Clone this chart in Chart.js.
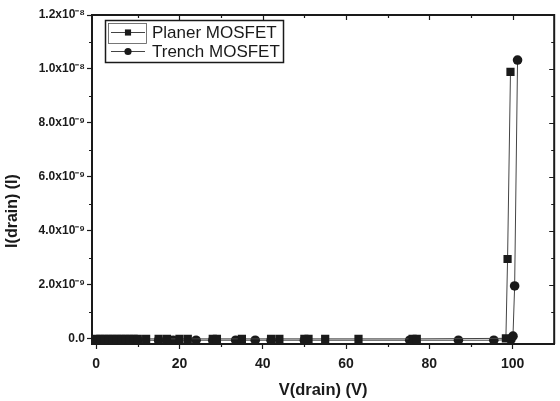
<!DOCTYPE html>
<html lang="en">
<head>
    <meta charset="UTF-8">
    <title>I(drain) vs V(drain)</title>
    <script src="https://cdn.jsdelivr.net/npm/chart.js"></script>
    <style>
        html, body {
            margin: 0;
            padding: 0;
            background: #ffffff;
        }
        #wrap {
            width: 560px;
            height: 401px;
        }
    </style>
</head>
<body>

<div id="wrap">
    <canvas id="ivChart" width="560" height="401"></canvas>
</div>

<script>
    // data
    const seriesNames = ['Planer MOSFET', 'Trench MOSFET'];

    const planerV = [0, 1, 2, 3, 4, 5, 6, 7, 8, 9, 10, 12, 15, 17, 20, 22, 28, 29, 35, 42, 44, 50, 51, 55, 63, 76, 77, 98.4, 98.8, 99.5];
    const planerI = [0, 0, 0, 0, 0, 0, 0, 0, 0, 0, 0, 0, 0, 0, 0, 0, 0, 0, 0, 0, 0, 0, 0, 0, 0, 0, 0, 0.02e-9, 2.96e-9, 9.89e-9];

    const trenchV = [0, 2, 4, 6, 8, 10, 15, 17.6, 18.5, 24, 28, 33.5, 38.2, 42, 50, 75.3, 87, 95.5, 99.6, 100.1, 100.5, 101.2];
    const trenchI = [-0.05e-9, -0.05e-9, -0.05e-9, -0.05e-9, -0.05e-9, -0.05e-9, -0.05e-9, -0.05e-9, -0.05e-9, -0.05e-9, -0.05e-9, -0.05e-9, -0.05e-9, -0.05e-9, -0.05e-9, -0.05e-9, -0.05e-9, -0.05e-9, -0.03e-9, 0.1e-9, 1.96e-9, 10.33e-9];

    const xTicks = [0, 20, 40, 60, 80, 100];
    const xTickLabels = ['0', '20', '40', '60', '80', '100'];
    const yTicks = [0, 2e-9, 4e-9, 6e-9, 8e-9, 1e-8, 1.2e-8];
    const yTickLabels = ['0.0', '2.0x10\u207B\u2079', '4.0x10\u207B\u2079', '6.0x10\u207B\u2079', '8.0x10\u207B\u2079', '1.0x10\u207B\u2078', '1.2x10\u207B\u2078'];

    const xTitle = 'V(drain) (V)';
    const yTitle = 'I(drain) (I)';

    const toPoints = (xs, ys) => xs.map((x, i) => ({ x: x, y: ys[i] }));

    const ink = '#1a1a1a';
    const fontFamily = '"Liberation Sans", Arial, sans-serif';

    // frame on top/right, minor ticks, inward ticks, y title
    const framePlugin = {
        id: 'frame',
        afterDraw(chart) {
            const ctx = chart.ctx;
            const xs = chart.scales.x;
            const ys = chart.scales.y;
            const a = chart.chartArea;
            ctx.save();
            ctx.strokeStyle = ink;
            ctx.lineWidth = 2;
            ctx.beginPath();
            ctx.moveTo(a.left, a.top);
            ctx.lineTo(a.right, a.top);
            ctx.lineTo(a.right, a.bottom);
            ctx.stroke();

            ctx.lineWidth = 1.2;
            ctx.beginPath();
            for (let v = 10; v < xs.max; v += 10) {
                const px = Math.round(xs.getPixelForValue(v)) + 0.5;
                const major = v % 20 === 0;
                ctx.moveTo(px, a.top);
                ctx.lineTo(px, a.top + (major ? 5 : 3));
                if (!major) {
                    ctx.moveTo(px, a.bottom);
                    ctx.lineTo(px, a.bottom + 3);
                }
            }
            for (let k = 1; k * 1e-9 <= ys.max + 1e-12; k++) {
                const py = Math.round(ys.getPixelForValue(k * 1e-9)) + 0.5;
                const major = k % 2 === 0;
                ctx.moveTo(a.right, py);
                ctx.lineTo(a.right - (major ? 5 : 3), py);
                if (!major) {
                    ctx.moveTo(a.left, py);
                    ctx.lineTo(a.left - 3, py);
                }
            }
            ctx.stroke();

            // y title sits a bit below the axis middle in the original
            ctx.translate(13, 211);
            ctx.rotate(-Math.PI / 2);
            ctx.fillStyle = ink;
            ctx.font = 'bold 16px ' + fontFamily;
            ctx.textAlign = 'center';
            ctx.textBaseline = 'middle';
            ctx.fillText(yTitle, 0, 0);
            ctx.restore();
        }
    };

    // legend box like the original figure
    const legendPlugin = {
        id: 'boxLegend',
        afterDatasetsDraw(chart) {
            const ctx = chart.ctx;
            const left = 105, top = 20, width = 178, height = 42;
            ctx.save();
            ctx.fillStyle = '#ffffff';
            ctx.fillRect(left, top, width, height);
            ctx.strokeStyle = ink;
            ctx.lineWidth = 1.5;
            ctx.strokeRect(left + 0.5, top + 0.5, width, height);
            ctx.lineWidth = 0.8;
            ctx.strokeStyle = '#555555';
            ctx.strokeRect(left + 3.5, top + 3.5, 38, 20);

            chart.data.datasets.forEach((ds, i) => {
                const cy = top + 12 + i * 19;
                ctx.strokeStyle = '#444444';
                ctx.lineWidth = 1;
                ctx.beginPath();
                ctx.moveTo(left + 6, cy + 0.5);
                ctx.lineTo(left + 40, cy + 0.5);
                ctx.stroke();
                ctx.fillStyle = ink;
                ctx.strokeStyle = ink;
                Chart.helpers.drawPoint(ctx, {
                    pointStyle: ds.pointStyle,
                    radius: ds.pointRadius * 0.75,
                    borderWidth: 0
                }, left + 23, cy + 0.5);
                ctx.fillStyle = ink;
                ctx.font = '17px ' + fontFamily;
                ctx.textBaseline = 'middle';
                ctx.textAlign = 'left';
                ctx.fillText(ds.label, left + 47, cy + 1);
            });
            ctx.restore();
        }
    };

    const ctx1 = document.getElementById('ivChart').getContext('2d');
    const ivChart = new Chart(ctx1, {
        type: 'scatter',
        data: {
            datasets: [{
                label: seriesNames[0],
                data: toPoints(planerV, planerI),
                showLine: true,
                borderColor: '#444444',
                borderWidth: 1,
                backgroundColor: ink,
                pointBackgroundColor: ink,
                pointBorderColor: ink,
                pointBorderWidth: 0,
                pointStyle: 'rect',
                pointRadius: 5.8
            }, {
                label: seriesNames[1],
                data: toPoints(trenchV, trenchI),
                showLine: true,
                borderColor: '#444444',
                borderWidth: 1,
                backgroundColor: ink,
                pointBackgroundColor: ink,
                pointBorderColor: ink,
                pointBorderWidth: 0,
                pointStyle: 'circle',
                pointRadius: 4.8
            }]
        },
        options: {
            responsive: false,
            animation: false,
            layout: {
                padding: { top: 15, right: 3, left: 0, bottom: 0 }
            },
            plugins: {
                legend: { display: false },
                tooltip: { enabled: false }
            },
            scales: {
                x: {
                    type: 'linear',
                    min: -1,
                    max: 110,
                    afterFit(scale) { scale.height = 57; },
                    afterBuildTicks(scale) { scale.ticks = xTicks.map(v => ({ value: v })); },
                    border: { display: true, color: ink, width: 2 },
                    grid: { display: true, drawOnChartArea: false, drawTicks: true, tickLength: 5, color: ink, tickWidth: 1.2 },
                    ticks: {
                        padding: 7,
                        color: ink,
                        maxRotation: 0,
                        font: { family: fontFamily, size: 14, weight: 'bold' },
                        callback: (v, i) => xTickLabels[i]
                    },
                    title: {
                        display: true,
                        text: xTitle,
                        color: ink,
                        font: { family: fontFamily, size: 16.5, weight: 'bold' },
                        padding: { top: 0, bottom: 1 }
                    }
                },
                y: {
                    type: 'linear',
                    min: -1.9e-10,
                    max: 1.2e-8,
                    afterFit(scale) { scale.width = 92; },
                    afterBuildTicks(scale) { scale.ticks = yTicks.map(v => ({ value: v })); },
                    border: { display: true, color: ink, width: 2 },
                    grid: { display: true, drawOnChartArea: false, drawTicks: true, tickLength: 5, color: ink, tickWidth: 1.2 },
                    ticks: {
                        padding: 2,
                        color: ink,
                        font: { family: fontFamily, size: 12, weight: 'bold' },
                        callback: (v, i) => yTickLabels[i]
                    },
                    title: { display: false }
                }
            }
        },
        plugins: [framePlugin, legendPlugin]
    });
</script>

</body>
</html>
